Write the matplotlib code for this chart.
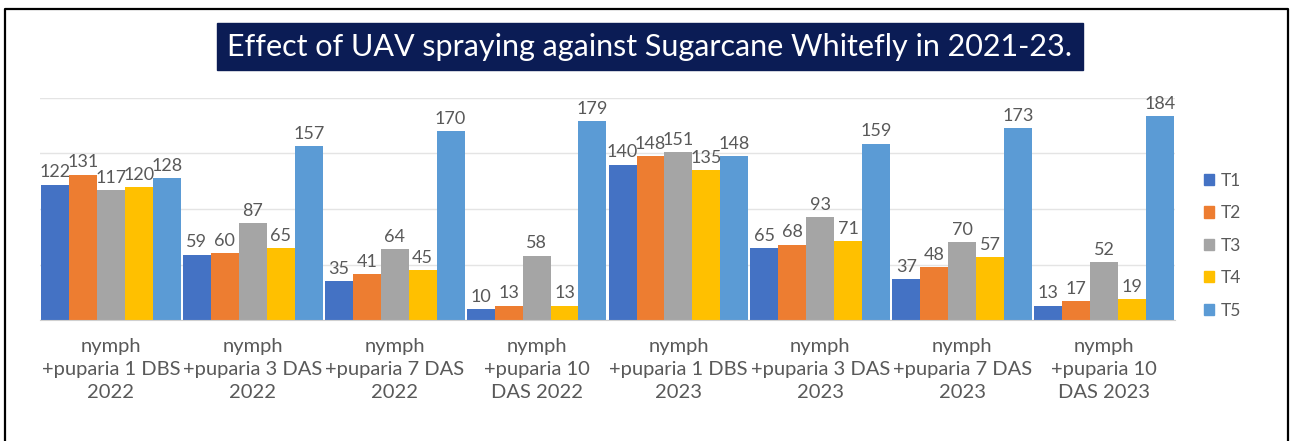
import matplotlib.pyplot as plt
import matplotlib.patches as mpatches
import numpy as np

# chart data
categories = [
    "nymph\n+puparia 1 DBS\n2022",
    "nymph\n+puparia 3 DAS\n2022",
    "nymph\n+puparia 7 DAS\n2022",
    "nymph\n+puparia 10\nDAS 2022",
    "nymph\n+puparia 1 DBS\n2023",
    "nymph\n+puparia 3 DAS\n2023",
    "nymph\n+puparia 7 DAS\n2023",
    "nymph\n+puparia 10\nDAS 2023",
]
series_names = ["T1", "T2", "T3", "T4", "T5"]
t1 = [122, 59, 35, 10, 140, 65, 37, 13]
t2 = [131, 60, 41, 13, 148, 68, 48, 17]
t3 = [117, 87, 64, 58, 151, 93, 70, 52]
t4 = [120, 65, 45, 13, 135, 71, 57, 19]
t5 = [128, 157, 170, 179, 148, 159, 173, 184]
title = "Effect of UAV spraying against Sugarcane Whitefly in 2021-23."

colors = ["#4472C4", "#ED7D31", "#A5A5A5", "#FFC000", "#5B9BD5"]
label_color = "#595959"

plt.rcParams['font.family'] = ['Lato', 'DejaVu Sans']

W, H = 1292, 441
fig = plt.figure(figsize=(W / 100, H / 100), dpi=100)
ax = fig.add_axes([40 / W, 1 - 320 / H, (1175 - 40) / W, (320 - 98) / H])

x = np.arange(len(categories))
n = len(series_names)
bar_w = 0.985 / n
for i, (name, vals) in enumerate(zip(series_names, [t1, t2, t3, t4, t5])):
    offs = (i - (n - 1) / 2) * bar_w
    bars = ax.bar(x + offs, vals, width=bar_w, color=colors[i], label=name, zorder=2)
    ax.bar_label(bars, padding=3, fontsize=13, color=label_color)

ax.set_xlim(-0.5, len(categories) - 0.5)
ax.set_ylim(0, 200)
ax.set_yticks([0, 50, 100, 150, 200])
ax.yaxis.grid(True, color="#e4e4e4", linewidth=1, zorder=0)
ax.tick_params(axis='y', left=False, labelleft=False)
ax.set_xticks(x)
ax.set_xticklabels(categories, fontsize=14.5, color=label_color, linespacing=1.42)
ax.tick_params(axis='x', length=0, pad=13)
for side in ['top', 'right', 'left']:
    ax.spines[side].set_visible(False)
ax.spines['bottom'].set_color("#d0d0d0")
ax.spines['bottom'].set_zorder(3)

# legend on the right
handles = [mpatches.Patch(color=c, label=s) for c, s in zip(colors, series_names)]
fig.legend(handles=handles, loc='upper left', bbox_to_anchor=(1188 / W, 1 - 157 / H),
           frameon=False, fontsize=12.5, labelcolor=label_color, handlelength=0.6,
           handleheight=0.6, handletextpad=0.4, labelspacing=0.95)

# title box
fig.patches.append(mpatches.Rectangle((217 / W, 1 - 70 / H), (1083 - 217) / W, 47 / H,
                                      transform=fig.transFigure, color="#0b1c55", zorder=1))
fig.text((217 + 1083) / 2 / W, 1 - 47 / H, title, ha='center', va='center',
         color='white', fontsize=22, zorder=2)

# outer border
fig.add_artist(plt.Line2D([5 / W, 5 / W, 1288 / W, 1288 / W], [0, 1 - 9 / H, 1 - 9 / H, 0],
                          transform=fig.transFigure, color='black', linewidth=1.6))

fig.savefig("out.png", dpi=100)
